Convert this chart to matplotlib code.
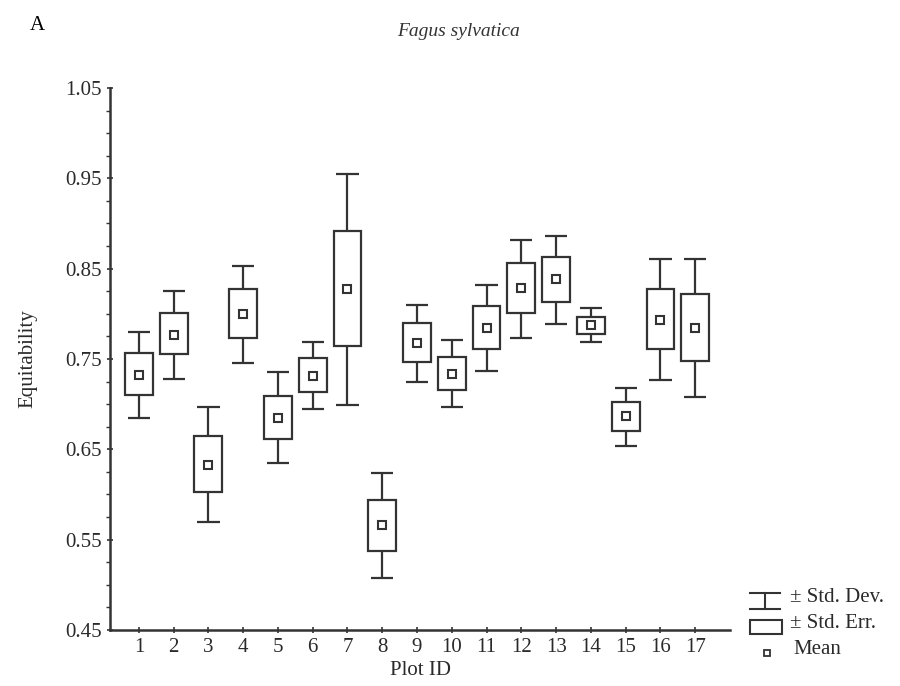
import numpy as np
import matplotlib.pyplot as plt
from matplotlib.patches import Rectangle
from matplotlib.lines import Line2D

plt.rcParams['font.family'] = ['Liberation Serif', 'DejaVu Serif']

plot_ids = np.arange(1, 18)
means = [0.732, 0.777, 0.633, 0.800, 0.685, 0.731, 0.827, 0.566, 0.768,
         0.733, 0.784, 0.829, 0.839, 0.788, 0.687, 0.793, 0.784]
se_low = [0.710, 0.755, 0.603, 0.773, 0.661, 0.714, 0.764, 0.537, 0.747,
          0.716, 0.761, 0.801, 0.813, 0.778, 0.670, 0.761, 0.748]
se_high = [0.757, 0.801, 0.665, 0.828, 0.709, 0.751, 0.892, 0.594, 0.790,
           0.752, 0.809, 0.856, 0.863, 0.796, 0.702, 0.828, 0.822]
sd_low = [0.685, 0.728, 0.570, 0.746, 0.635, 0.695, 0.699, 0.508, 0.725,
          0.697, 0.737, 0.773, 0.789, 0.769, 0.654, 0.727, 0.708]
sd_high = [0.780, 0.825, 0.697, 0.853, 0.736, 0.769, 0.955, 0.624, 0.810,
           0.771, 0.832, 0.882, 0.886, 0.807, 0.718, 0.861, 0.861]

col = '#333333'
txt = '#2a2a2a'
fig = plt.figure(figsize=(9, 6.86), dpi=100)
ax = fig.add_axes([110 / 900, 56 / 686, 620 / 900, 542 / 686])

# std err boxes
ax.bar(plot_ids, np.array(se_high) - np.array(se_low), bottom=se_low, width=0.8,
       fill=False, edgecolor=col, linewidth=1.6, zorder=2)
# std dev whiskers
ax.vlines(plot_ids, se_high, sd_high, color=col, lw=1.6)
ax.vlines(plot_ids, sd_low, se_low, color=col, lw=1.6)
ax.hlines(sd_high, plot_ids - 0.32, plot_ids + 0.32, color=col, lw=1.6)
ax.hlines(sd_low, plot_ids - 0.32, plot_ids + 0.32, color=col, lw=1.6)
# means
ax.plot(plot_ids, means, 's', ms=6, mfc='white', mec=col, mew=1.5, ls='none', zorder=3)

ax.set_xlim(0.17, 18.0)
ax.set_ylim(0.45, 1.05)
ax.set_xticks(plot_ids)
ax.set_yticks(np.arange(0.45, 1.06, 0.1))
ax.set_yticklabels(['0.45', '0.55', '0.65', '0.75', '0.85', '0.95', '1.05'])
ax.set_yticks(np.arange(0.45, 1.05, 0.025), minor=True)
ax.spines['top'].set_visible(False)
ax.spines['right'].set_visible(False)
for s in ['left', 'bottom']:
    ax.spines[s].set_linewidth(1.8)
    ax.spines[s].set_color(col)
ax.tick_params(axis='both', which='major', direction='inout', length=5, width=1.2,
               color=col, labelsize=15, labelcolor=txt)
ax.tick_params(axis='x', which='major', pad=3)
ax.tick_params(axis='y', which='minor', direction='out', length=3, width=1.0, color=col)
ax.set_xlabel('Plot ID', fontsize=15, color=txt, labelpad=3)
ax.set_ylabel('Equitability', fontsize=15, color=txt, labelpad=20)

fig.text(30 / 900, 1 - 25 / 686, 'A', fontsize=15, ha='left', va='center')
fig.text(458 / 900, 1 - 31 / 686, 'Fagus sylvatica', fontsize=14, style='italic',
         ha='center', va='center', color='#333333')

# legend drawn by hand
def fx(px):
    return px / 900

def fy(py):
    return 1 - py / 686

fig.add_artist(Line2D([fx(750), fx(780)], [fy(593), fy(593)], color=col, lw=1.5))
fig.add_artist(Line2D([fx(765), fx(765)], [fy(593), fy(609)], color=col, lw=1.5))
fig.add_artist(Line2D([fx(750), fx(780)], [fy(609), fy(609)], color=col, lw=1.5))
fig.add_artist(Rectangle((fx(750), fy(634)), fx(782) - fx(750), fy(620) - fy(634),
                         fill=False, edgecolor=col, lw=1.5))
fig.add_artist(Line2D([fx(767)], [fy(653)], marker='s', ms=5, mfc='white', mec=col,
                      mew=1.3, ls='none'))
fig.text(fx(790), fy(597), '± Std. Dev.', fontsize=15, va='center', color=txt)
fig.text(fx(790), fy(623), '± Std. Err.', fontsize=15, va='center', color=txt)
fig.text(fx(793), fy(649), 'Mean', fontsize=15, va='center', color=txt)

fig.savefig('out.png', dpi=100)
